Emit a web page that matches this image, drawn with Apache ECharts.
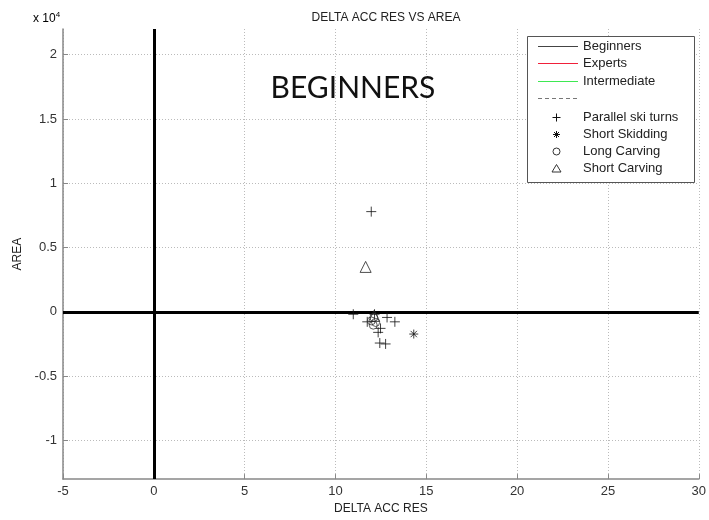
<!DOCTYPE html>
<html>
<head>
<meta charset="utf-8">
<script src="https://cdn.jsdelivr.net/npm/echarts@6/dist/echarts.min.js"></script>
<style>
  html, body { margin: 0; padding: 0; background: #fff; }
  #chart { width: 709px; height: 520px; }
</style>
</head>
<body>
<div id="chart"></div>
<script>
// Beginners group: delta of accelerometer resultant vs. area, per turn type
const parallelX = [11.97, 10.98, 12.15, 12.84, 13.27, 11.75, 12.48, 12.35, 12.44, 12.76];
const parallelY = [7800, -180, -180, -430, -770, -770, -1280, -1590, -2420, -2490];
const skiddingX = [14.31];
const skiddingY = [-1720];
const longCarvingX = [12.11, 11.97, 12.21, 12.08];
const longCarvingY = [-430, -700, -820, -1030];
const shortCarvingX = [11.66, 12.13];
const shortCarvingY = [3500, -310];

const yTicks = [-10000, -5000, 0, 5000, 10000, 15000, 20000];

const pairs = (xs, ys) => xs.map((x, i) => [x, ys[i]]);

const PLUS = 'path://M0,-1L0,1M-1,0L1,0';
const STAR = 'path://M0,-1L0,1M-1,0L1,0M-0.7,-0.7L0.7,0.7M-0.7,0.7L0.7,-0.7';

const font = 'Arial, "Liberation Sans", sans-serif';
const hollow = (c) => ({ color: 'rgba(0,0,0,0)', borderColor: c, borderWidth: 1 });

// Legend box drawn as graphic elements
const legendLeft = 527, legendTop = 36;
const legendRows = [
  { kind: 'line', color: '#444', text: 'Beginners', y: 46.5 },
  { kind: 'line', color: '#f0203a', text: 'Experts', y: 63.5 },
  { kind: 'line', color: '#3ee852', text: 'Intermediate', y: 81.5 },
  { kind: 'dash', color: '#777', text: '', y: 98.5 },
  { kind: 'plus', text: 'Parallel ski turns', y: 117.5 },
  { kind: 'star', text: 'Short Skidding', y: 134.5 },
  { kind: 'circle', text: 'Long Carving', y: 151.5 },
  { kind: 'tri', text: 'Short Carving', y: 168.5 }
];
const seg = (x1, y1, x2, y2, stroke) => ({
  type: 'line', shape: { x1, y1, x2, y2 }, style: { stroke, lineWidth: 1 }, z: 101
});
const legendEls = [{
  type: 'rect', shape: { x: legendLeft + 0.5, y: legendTop + 0.5, width: 167, height: 146 },
  style: { fill: '#fff', stroke: '#555', lineWidth: 1 }, z: 100
}];
legendRows.forEach(r => {
  const mx = 556.5, y = r.y;
  if (r.kind === 'line' || r.kind === 'dash') {
    legendEls.push({ type: 'line', shape: { x1: 538, y1: y, x2: 578, y2: y },
      style: { stroke: r.color, lineWidth: 1.2, lineDash: r.kind === 'dash' ? [4, 3] : null }, z: 101 });
  } else if (r.kind === 'plus') {
    legendEls.push(seg(mx, y - 4, mx, y + 4, '#111'), seg(mx - 4, y, mx + 4, y, '#111'));
  } else if (r.kind === 'star') {
    legendEls.push(seg(mx, y - 3.5, mx, y + 3.5, '#111'), seg(mx - 3.5, y, mx + 3.5, y, '#111'),
      seg(mx - 2.5, y - 2.5, mx + 2.5, y + 2.5, '#111'), seg(mx - 2.5, y + 2.5, mx + 2.5, y - 2.5, '#111'));
  } else if (r.kind === 'circle') {
    legendEls.push({ type: 'circle', shape: { cx: mx, cy: y, r: 3.5 },
      style: { stroke: '#333', lineWidth: 1, fill: 'rgba(0,0,0,0)' }, z: 101 });
  } else if (r.kind === 'tri') {
    legendEls.push({ type: 'polygon', shape: { points: [[mx, y - 4], [mx - 4.5, y + 3.5], [mx + 4.5, y + 3.5]] },
      style: { stroke: '#333', lineWidth: 1, fill: 'rgba(0,0,0,0)' }, z: 101 });
  }
  if (r.text) {
    legendEls.push({ type: 'text', x: 583, y: y,
      style: { text: r.text, font: `13px ${font}`, fill: '#222', textVerticalAlign: 'middle' }, z: 101 });
  }
});

const chart = echarts.init(document.getElementById('chart'), null, { renderer: 'canvas' });

const option = {
  backgroundColor: '#fff',
  animation: false,
  title: {
    text: 'DELTA ACC RES VS AREA',
    left: 381, top: 7, textAlign: 'center',
    textStyle: { fontFamily: font, fontSize: 12, fontWeight: 'normal', color: '#222' }
  },
  grid: { left: 63, right: 8, top: 29, bottom: 40 },
  xAxis: {
    type: 'value', min: -5, max: 30, interval: 5,
    name: 'DELTA ACC RES', nameLocation: 'middle', nameGap: 23,
    nameTextStyle: { fontFamily: font, fontSize: 12, color: '#222' },
    axisLine: { onZero: false, lineStyle: { color: '#888', width: 1.5 } },
    axisTick: { inside: true, length: 5, lineStyle: { color: '#888' } },
    axisLabel: { fontFamily: font, fontSize: 13, color: '#333', margin: 6 },
    splitLine: { show: true, lineStyle: { color: '#bbb', type: [1, 2], width: 1 } }
  },
  yAxis: {
    type: 'value', min: -13000, max: 22000,
    name: 'AREA', nameLocation: 'middle', nameGap: 35, nameRotate: 90,
    nameTextStyle: { fontFamily: font, fontSize: 12, color: '#222' },
    axisLine: { onZero: false, lineStyle: { color: '#888', width: 1.5 } },
    axisTick: { inside: true, length: 5, lineStyle: { color: '#888' }, customValues: yTicks },
    axisLabel: { fontFamily: font, fontSize: 13, color: '#333', margin: 6,
      customValues: yTicks, formatter: v => String(v / 10000) },
    splitLine: { show: true, lineStyle: { color: '#bbb', type: [1, 2], width: 1 } }
  },
  graphic: [
    { type: 'text', x: 33, y: 11,
      style: { text: '{b|x 10}{s|4}', rich: {
        b: { fontFamily: font, fontSize: 12, color: '#333' },
        s: { fontFamily: font, fontSize: 8, color: '#333', verticalAlign: 'top', padding: [0, 0, 8, 0] }
      } } },
    { type: 'text', x: 353, y: 88,
      style: { text: 'BEGINNERS', font: '30px Lato, "Open Sans", sans-serif', fill: '#111',
        textAlign: 'center', textVerticalAlign: 'middle' }, z: 50 },
    ...legendEls
  ],
  series: [
    {
      name: 'Parallel ski turns', type: 'scatter', symbol: PLUS, symbolSize: 10,
      itemStyle: hollow('#111'), data: pairs(parallelX, parallelY), z: 5,
      markLine: {
        silent: true, symbol: 'none', label: { show: false },
        lineStyle: { color: '#000', width: 3, type: 'solid' },
        data: [{ xAxis: 0 }, { yAxis: 0 }]
      }
    },
    {
      name: 'Short Skidding', type: 'scatter', symbol: STAR, symbolSize: 9,
      itemStyle: hollow('#111'), data: pairs(skiddingX, skiddingY), z: 5
    },
    {
      name: 'Long Carving', type: 'scatter', symbol: 'circle', symbolSize: 8,
      itemStyle: hollow('#333'), data: pairs(longCarvingX, longCarvingY), z: 5
    },
    {
      name: 'Short Carving', type: 'scatter', symbol: 'triangle', symbolSize: 11,
      itemStyle: hollow('#222'), data: pairs(shortCarvingX, shortCarvingY), z: 5
    }
  ]
};

chart.setOption(option);
</script>
</body>
</html>
